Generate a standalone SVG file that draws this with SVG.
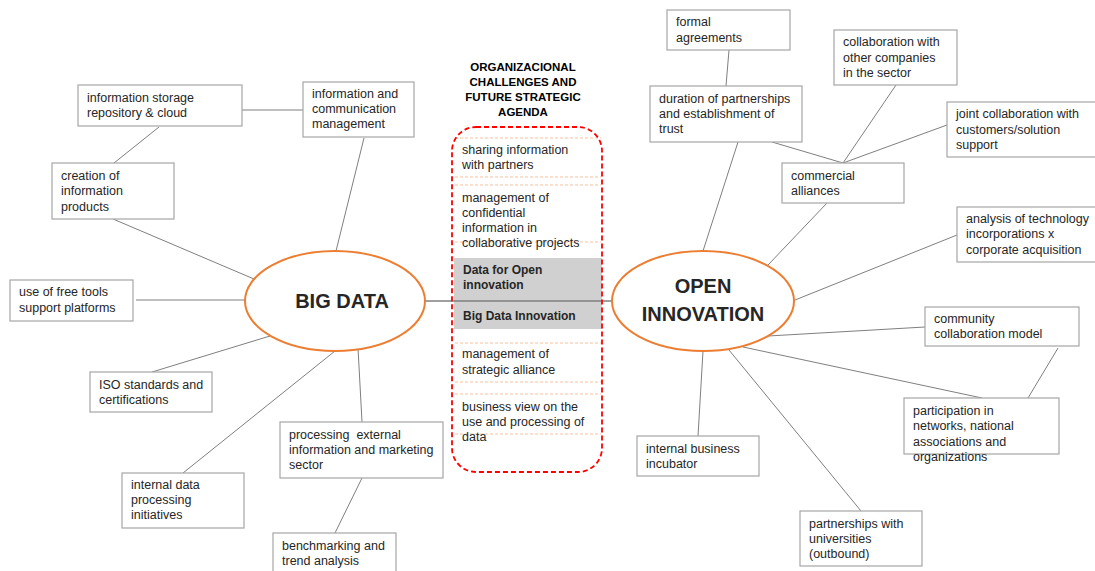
<svg xmlns="http://www.w3.org/2000/svg" width="1095" height="571" viewBox="0 0 1095 571">
  <defs>
    <style>
      .bg { fill: #ffffff; }
      .box { fill: #ffffff; stroke: #a6a6a6; stroke-width: 1.2; }
      .link { stroke: #7f7f7f; stroke-width: 1; fill: none; }
      .axis { stroke: #7f7f7f; stroke-width: 1.5; fill: none; }
      .hub { fill: #ffffff; stroke: #ed7d31; stroke-width: 2; }
      .lbl { font-family: "Liberation Sans", Arial, sans-serif; font-size: 12.5px; fill: #262626; }
      .hubtxt { font-family: "Liberation Sans", Arial, sans-serif; font-size: 20px; font-weight: bold; fill: #262626; text-anchor: middle; }
      .title { font-family: "Liberation Sans", Arial, sans-serif; font-size: 11.5px; font-weight: bold; fill: #000000; text-anchor: middle; }
      .frame { fill: none; stroke: #ff0000; stroke-width: 1.8; stroke-dasharray: 5 3; }
      .sep { stroke: #f4b183; stroke-width: 0.8; stroke-dasharray: 3 2; }
      .band { fill: #d0d0d0; }
      .bold { font-weight: bold; font-size: 12px; }
    </style>
  </defs>

  <rect class="bg" x="0" y="0" width="1095" height="571"/>

  <!-- shaded band behind the highlighted agenda items -->
  <g id="agenda-band">
    <rect class="band" x="454" y="258" width="148" height="71"/>
  </g>

  <!-- connectors -->
  <g id="connectors">
    <line class="axis" x1="425" y1="301" x2="613" y2="301"/>
    <!-- BIG DATA side -->
    <line class="link" x1="242" y1="110" x2="303" y2="110"/>
    <line class="link" x1="159" y1="127" x2="114" y2="163"/>
    <line class="link" x1="113" y1="219" x2="254" y2="279"/>
    <line class="link" x1="364" y1="138" x2="336" y2="251"/>
    <line class="link" x1="136" y1="300" x2="245" y2="300"/>
    <line class="link" x1="270" y1="336" x2="152" y2="372"/>
    <line class="link" x1="335" y1="351" x2="183" y2="473"/>
    <line class="link" x1="358" y1="348" x2="362" y2="422"/>
    <line class="link" x1="362" y1="478" x2="335" y2="533"/>
    <!-- OPEN INNOVATION side -->
    <line class="link" x1="729" y1="50" x2="726" y2="86"/>
    <line class="link" x1="738" y1="142" x2="703" y2="251"/>
    <line class="link" x1="772" y1="142" x2="843" y2="163"/>
    <line class="link" x1="896" y1="85" x2="843" y2="163"/>
    <line class="link" x1="947" y1="125" x2="843" y2="163"/>
    <line class="link" x1="827" y1="203" x2="768" y2="265"/>
    <line class="link" x1="957" y1="235" x2="795" y2="300"/>
    <line class="link" x1="925" y1="327" x2="768" y2="336"/>
    <line class="link" x1="1058" y1="348" x2="1028" y2="398"/>
    <line class="link" x1="743" y1="347" x2="982" y2="398"/>
    <line class="link" x1="703" y1="351" x2="698" y2="436"/>
    <line class="link" x1="729" y1="350" x2="861" y2="511"/>
  </g>

  <!-- central agenda column -->
  <g id="agenda">
    <text class="title" x="523" y="71">ORGANIZACIONAL</text>
    <text class="title" x="523" y="86">CHALLENGES AND</text>
    <text class="title" x="523" y="101">FUTURE STRATEGIC</text>
    <text class="title" x="523" y="116">AGENDA</text>

    <line class="sep" x1="455" y1="138" x2="601" y2="138"/>
    <line class="sep" x1="455" y1="177" x2="601" y2="177"/>
    <line class="sep" x1="455" y1="185" x2="601" y2="185"/>
    <line class="sep" x1="455" y1="242" x2="601" y2="242"/>
    <line class="sep" x1="455" y1="343" x2="601" y2="343"/>
    <line class="sep" x1="455" y1="382" x2="601" y2="382"/>
    <line class="sep" x1="455" y1="394" x2="601" y2="394"/>
    <line class="sep" x1="455" y1="434" x2="601" y2="434"/>

    <text class="lbl"><tspan x="462" y="154">sharing information</tspan><tspan x="462" y="169">with partners</tspan></text>
    <text class="lbl"><tspan x="462" y="202">management of</tspan><tspan x="462" y="217">confidential</tspan><tspan x="462" y="232">information in</tspan><tspan x="462" y="247">collaborative projects</tspan></text>
    <text class="lbl bold"><tspan x="463" y="274">Data for Open</tspan><tspan x="463" y="289">innovation</tspan></text>
    <text class="lbl bold" x="463" y="320">Big Data Innovation</text>
    <text class="lbl"><tspan x="462" y="358">management of</tspan><tspan x="462" y="374">strategic alliance</tspan></text>
    <text class="lbl"><tspan x="462" y="411">business view on the</tspan><tspan x="462" y="426">use and processing of</tspan><tspan x="462" y="441">data</tspan></text>

    <rect class="frame" x="452" y="127" width="150" height="345" rx="24" ry="24"/>
  </g>

  <!-- hubs -->
  <g id="big-data">
    <ellipse class="hub" cx="335" cy="301" rx="90" ry="50"/>
    <text class="hubtxt" x="342" y="308">BIG DATA</text>
  </g>
  <g id="open-innovation">
    <ellipse class="hub" cx="703" cy="301" rx="91" ry="50"/>
    <text class="hubtxt"><tspan x="703" y="293">OPEN</tspan><tspan x="703" y="321">INNOVATION</tspan></text>
  </g>

  <!-- BIG DATA branches -->
  <g id="storage">
    <rect class="box" x="78" y="85" width="164" height="41"/>
    <text class="lbl"><tspan x="87" y="102">information storage</tspan><tspan x="87" y="117">repository &amp; cloud</tspan></text>
  </g>
  <g id="info-comm">
    <rect class="box" x="303" y="82" width="111" height="55"/>
    <text class="lbl"><tspan x="312" y="98">information and</tspan><tspan x="312" y="113">communication</tspan><tspan x="312" y="128">management</tspan></text>
  </g>
  <g id="info-products">
    <rect class="box" x="52" y="163" width="122" height="56"/>
    <text class="lbl"><tspan x="61" y="180">creation of</tspan><tspan x="61" y="195">information</tspan><tspan x="61" y="211">products</tspan></text>
  </g>
  <g id="free-tools">
    <rect class="box" x="10" y="280" width="123" height="41"/>
    <text class="lbl"><tspan x="19" y="296">use of free tools</tspan><tspan x="19" y="312">support platforms</tspan></text>
  </g>
  <g id="iso">
    <rect class="box" x="90" y="372" width="122" height="40"/>
    <text class="lbl"><tspan x="99" y="389">ISO standards and</tspan><tspan x="99" y="404">certifications</tspan></text>
  </g>
  <g id="internal-data">
    <rect class="box" x="122" y="473" width="122" height="55"/>
    <text class="lbl"><tspan x="131" y="489">internal data</tspan><tspan x="131" y="504">processing</tspan><tspan x="131" y="519">initiatives</tspan></text>
  </g>
  <g id="external-info">
    <rect class="box" x="280" y="422" width="163" height="56"/>
    <text class="lbl"><tspan x="289" y="439">processing&#160; external</tspan><tspan x="289" y="454">information and marketing</tspan><tspan x="289" y="469">sector</tspan></text>
  </g>
  <g id="benchmarking">
    <rect class="box" x="273" y="533" width="123" height="44"/>
    <text class="lbl"><tspan x="282" y="550">benchmarking and</tspan><tspan x="282" y="565">trend analysis</tspan></text>
  </g>

  <!-- OPEN INNOVATION branches -->
  <g id="formal-agreements">
    <rect class="box" x="667" y="10" width="123" height="40"/>
    <text class="lbl"><tspan x="676" y="26">formal</tspan><tspan x="676" y="42">agreements</tspan></text>
  </g>
  <g id="partnership-duration">
    <rect class="box" x="650" y="86" width="152" height="56"/>
    <text class="lbl"><tspan x="659" y="103">duration of partnerships</tspan><tspan x="659" y="118">and establishment of</tspan><tspan x="659" y="133">trust</tspan></text>
  </g>
  <g id="sector-collab">
    <rect class="box" x="834" y="30" width="123" height="55"/>
    <text class="lbl"><tspan x="843" y="46">collaboration with</tspan><tspan x="843" y="62">other companies</tspan><tspan x="843" y="77">in the sector</tspan></text>
  </g>
  <g id="customer-collab">
    <rect class="box" x="947" y="102" width="150" height="55"/>
    <text class="lbl"><tspan x="956" y="118">joint collaboration with</tspan><tspan x="956" y="134">customers/solution</tspan><tspan x="956" y="149">support</tspan></text>
  </g>
  <g id="commercial">
    <rect class="box" x="782" y="163" width="122" height="40"/>
    <text class="lbl"><tspan x="791" y="180">commercial</tspan><tspan x="791" y="195">alliances</tspan></text>
  </g>
  <g id="tech-analysis">
    <rect class="box" x="957" y="207" width="140" height="55"/>
    <text class="lbl"><tspan x="966" y="223">analysis of technology</tspan><tspan x="966" y="238">incorporations x</tspan><tspan x="966" y="254">corporate acquisition</tspan></text>
  </g>
  <g id="community">
    <rect class="box" x="925" y="307" width="154" height="39"/>
    <text class="lbl"><tspan x="934" y="323">community</tspan><tspan x="934" y="338">collaboration model</tspan></text>
  </g>
  <g id="networks">
    <rect class="box" x="904" y="398" width="155" height="56"/>
    <text class="lbl"><tspan x="913" y="415">participation in</tspan><tspan x="913" y="430">networks, national</tspan><tspan x="913" y="446">associations and</tspan><tspan x="913" y="461">organizations</tspan></text>
  </g>
  <g id="incubator">
    <rect class="box" x="637" y="436" width="122" height="40"/>
    <text class="lbl"><tspan x="646" y="453">internal business</tspan><tspan x="646" y="468">incubator</tspan></text>
  </g>
  <g id="universities">
    <rect class="box" x="800" y="511" width="122" height="55"/>
    <text class="lbl"><tspan x="809" y="528">partnerships with</tspan><tspan x="809" y="543">universities</tspan><tspan x="809" y="558">(outbound)</tspan></text>
  </g>
</svg>
